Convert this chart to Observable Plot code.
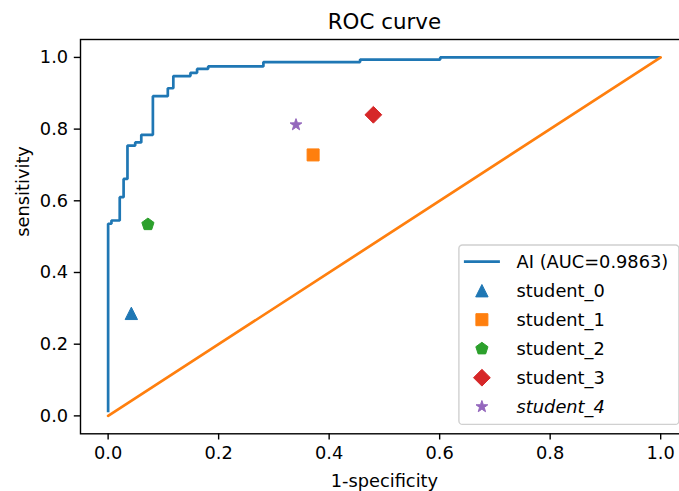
<!DOCTYPE html>
<html>
<head>
<meta charset="utf-8">
<script src="https://cdn.jsdelivr.net/npm/d3@7"></script>
<script src="https://cdn.jsdelivr.net/npm/@observablehq/plot@0.6"></script>
<style>
html, body { margin: 0; padding: 0; background: #fff; overflow: hidden; }
#chart svg { display: block; }
</style>
</head>
<body>
<div id="chart"></div>
<script>
// ---- data ----
const titleText = "ROC curve";
const xLabel = "1-specificity";
const yLabel = "sensitivity";
const aiLabel = "AI (AUC=0.9863)";

const aiFpr = [0, 0, 0.006, 0.006, 0.021, 0.021, 0.028, 0.028, 0.035, 0.035, 0.049, 0.049, 0.060, 0.060, 0.081, 0.081, 0.108, 0.108, 0.118, 0.118, 0.149, 0.149, 0.161, 0.161, 0.181, 0.181, 0.281, 0.281, 0.456, 0.456, 0.601, 0.601, 1.0];
const aiTpr = [0.01, 0.536, 0.536, 0.545, 0.545, 0.610, 0.610, 0.661, 0.661, 0.754, 0.754, 0.763, 0.763, 0.784, 0.784, 0.892, 0.892, 0.914, 0.914, 0.948, 0.948, 0.957, 0.957, 0.968, 0.968, 0.975, 0.975, 0.987, 0.987, 0.994, 0.994, 1.0, 1.0];

const chanceFpr = [0, 1];
const chanceTpr = [0, 1];

const studentNames = ["student_0", "student_1", "student_2", "student_3", "student_4"];
const studentFpr = [0.042, 0.371, 0.072, 0.480, 0.340];
const studentTpr = [0.286, 0.728, 0.534, 0.840, 0.812];
const studentShapes = ["triangle", "square", "pentagon", "diamond", "star"];
const studentColors = ["#1f77b4", "#ff7f0e", "#2ca02c", "#d62728", "#9467bd"];
const studentItalic = [false, false, false, false, true];

const xTicks = [0, 0.2, 0.4, 0.6, 0.8, 1.0];
const yTicks = [0, 0.2, 0.4, 0.6, 0.8, 1.0];

// ---- styles ----
const lineBlue = "#1f77b4";
const lineOrange = "#ff7f0e";
const FONT = "DejaVu Sans";
const FS = 17.8;

// matplotlib-like marker shapes
const symbols = {
  triangle: { draw(c) { const h = 6.2; c.moveTo(0, -h); c.lineTo(h, h); c.lineTo(-h, h); c.closePath(); } },
  square: { draw(c) { const h = 6; c.rect(-h, -h, 2 * h, 2 * h); } },
  pentagon: { draw(c) { const R = 6.4; for (let i = 0; i < 5; i++) { const a = -Math.PI / 2 + i * 2 * Math.PI / 5; const x = R * Math.cos(a), y = R * Math.sin(a); if (i) c.lineTo(x, y); else c.moveTo(x, y); } c.closePath(); } },
  diamond: { draw(c) { const h = 8.4; c.moveTo(0, -h); c.lineTo(h, 0); c.lineTo(0, h); c.lineTo(-h, 0); c.closePath(); } },
  star: { draw(c) { const R = 6.2, r = R * 0.4; for (let i = 0; i < 10; i++) { const a = -Math.PI / 2 + i * Math.PI / 5; const rr = i % 2 ? r : R; const x = rr * Math.cos(a), y = rr * Math.sin(a); if (i) c.lineTo(x, y); else c.moveTo(x, y); } c.closePath(); } }
};

const aiData = aiFpr.map((f, i) => ({ fpr: f, tpr: aiTpr[i] }));
const chanceData = chanceFpr.map((f, i) => ({ fpr: f, tpr: chanceTpr[i] }));

const W = 679, H = 491;
const mLeft = 80, mTop = 39, mBottom = 57.7, mRight = -8.8;

const studentMarks = studentNames.map((name, i) =>
  Plot.dot([{ fpr: studentFpr[i], tpr: studentTpr[i] }], {
    x: "fpr", y: "tpr",
    symbol: symbols[studentShapes[i]],
    fill: studentColors[i], stroke: studentColors[i], strokeWidth: 1, r: 6
  })
);

const plot = Plot.plot({
  width: W,
  height: H,
  marginLeft: mLeft,
  marginRight: mRight,
  marginTop: mTop,
  marginBottom: mBottom,
  style: { fontFamily: FONT, fontSize: FS + "px", color: "#000", background: "#fff" },
  x: { domain: [-0.05, 1.05] },
  y: { domain: [-0.05, 1.05] },
  marks: [
    Plot.line(aiData, { x: "fpr", y: "tpr", stroke: lineBlue, strokeWidth: 2.7, strokeLinejoin: "miter", strokeLinecap: "butt" }),
    Plot.line(chanceData, { x: "fpr", y: "tpr", stroke: lineOrange, strokeWidth: 2.7 }),
    ...studentMarks,
    Plot.axisX(xTicks, { tickSize: 6.2, tickPadding: 6.2, strokeWidth: 1.4, tickFormat: d3.format(".1f"), label: null, fontSize: FS, fill: "#000" }),
    Plot.axisY(yTicks, { tickSize: 6.2, tickPadding: 6.2, strokeWidth: 1.4, tickFormat: d3.format(".1f"), label: null, fontSize: FS, fill: "#000" }),
    Plot.frame({ stroke: "#000", strokeWidth: 1.4 }),
    Plot.text([titleText], { frameAnchor: "top", dy: -17.5, fontSize: 21.4, fill: "#000", lineAnchor: "middle" }),
    Plot.text([xLabel], { frameAnchor: "bottom", dy: 47.6, fontSize: FS, fill: "#000", lineAnchor: "middle" }),
    Plot.text([yLabel], { frameAnchor: "left", dx: -57, rotate: -90, fontSize: FS, fill: "#000", lineAnchor: "middle" })
  ]
});

// ---- legend (matplotlib style, lower right) ----
const xs = plot.scale("x"), ys = plot.scale("y");
const frameRight = xs.range[1], frameBottom = ys.range[0];
const pad = 0.5 * FS;
const lgW = 220, lgH = 179.4;
const lgRight = frameRight - pad, lgBottom = frameBottom - pad;
const lgLeft = lgRight - lgW, lgTop = lgBottom - lgH;
const svg = d3.select(plot);
const g = svg.append("g").attr("font-family", FONT).attr("font-size", FS).attr("text-anchor", "start");
g.append("rect")
  .attr("x", lgLeft).attr("y", lgTop).attr("width", lgW).attr("height", lgH)
  .attr("rx", 3.5).attr("fill", "#fff").attr("fill-opacity", 0.8)
  .attr("stroke", "#d0d0d0").attr("stroke-width", 1.4);
const rowY = i => lgTop + 16.7 + i * 29;
const handleX0 = lgLeft + 5, handleX1 = lgLeft + 41, textX = lgLeft + 57.7;
g.append("line")
  .attr("x1", handleX0).attr("x2", handleX1).attr("y1", rowY(0)).attr("y2", rowY(0))
  .attr("stroke", lineBlue).attr("stroke-width", 2.7);
g.append("text").attr("x", textX).attr("y", rowY(0)).attr("dy", "0.36em")
  .attr("text-anchor", "start").attr("fill", "#000").text(aiLabel);
studentNames.forEach((name, i) => {
  const p = d3.path();
  symbols[studentShapes[i]].draw(p);
  g.append("path")
    .attr("d", p.toString())
    .attr("transform", `translate(${(handleX0 + handleX1) / 2},${rowY(i + 1)})`)
    .attr("fill", studentColors[i]).attr("stroke", studentColors[i]).attr("stroke-width", 1);
  g.append("text").attr("x", textX).attr("y", rowY(i + 1)).attr("dy", "0.36em")
    .attr("text-anchor", "start")
    .attr("fill", "#000")
    .attr("font-style", studentItalic[i] ? "italic" : "normal")
    .text(name);
});

document.getElementById("chart").appendChild(plot);
</script>
</body>
</html>
